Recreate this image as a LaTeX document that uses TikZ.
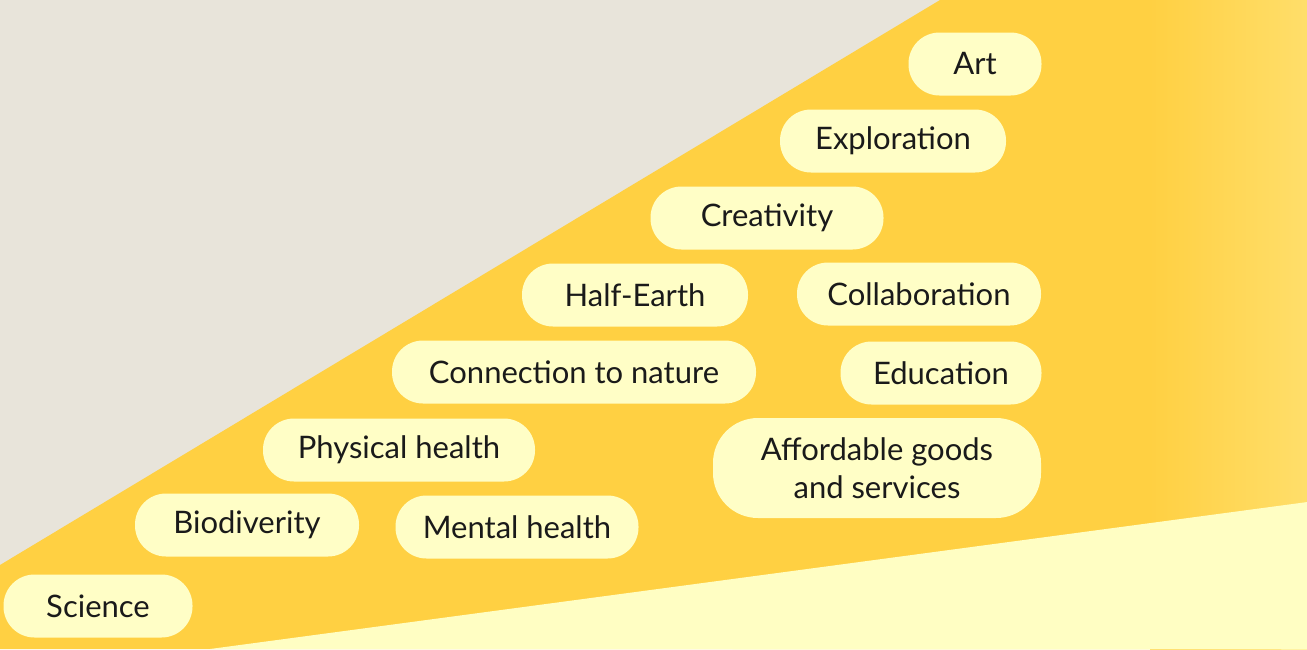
\documentclass[tikz,border=0pt]{standalone}
\usepackage{fontspec}
\setmainfont{Lato}
\usetikzlibrary{shapes.misc}
\definecolor{bggrey}{HTML}{E8E4DA}
\definecolor{wedge}{HTML}{FFD042}
\definecolor{wedgelight}{HTML}{FFE070}
\definecolor{pillfill}{HTML}{FFFEC6}
\definecolor{bottomfill}{HTML}{FFFEC3}
\definecolor{txt}{HTML}{1A1A1A}
\tikzset{
  pill/.style={fill=pillfill, draw=none, rounded corners=31pt, minimum height=63pt,
    inner sep=0pt, text=txt, font=\fontsize{31}{38}\selectfont, align=center},
}
\begin{document}
\begin{tikzpicture}[x=1pt,y=-1pt]
\useasboundingbox (0,0) rectangle (1307,649);
\fill[bggrey] (0,0) rectangle (1307,649);
\fill[wedge] (940,0) -- (1307,0) -- (1307,649) -- (0,649) -- (0,565) -- cycle;
\shade[left color=wedge, right color=wedgelight] (1150,0) rectangle (1330,649);
\fill[bggrey] (1307,-1) rectangle (1340,650);
\fill[bottomfill] (210,649) -- (1307.5,502) -- (1307.5,649.5) -- cycle;

\node[pill, minimum width=133pt] (art) at (975,64) {Art};
\node[pill, minimum width=226pt] (exploration) at (893,141) {Exploration};
\node[pill, minimum width=233pt] (creativity) at (767,218) {Creativity};
\node[pill, minimum width=226pt] (halfearth) at (635,295) {Half-Earth};
\node[pill, minimum width=244pt] (collab) at (919,294) {Collaboration};
\node[pill, minimum width=364pt] (connection) at (574,372) {Connection to nature};
\node[pill, minimum width=201pt] (education) at (941,373) {Education};
\node[pill, minimum width=272pt] (physical) at (399,450) {Physical health};
\node[pill, minimum width=328pt, minimum height=100pt, rounded corners=45pt] (afford) at (877,468) {Affordable goods\\and services};
\node[pill, minimum width=224pt] (biodiv) at (247,525) {Biodiverity};
\node[pill, minimum width=243pt] (mental) at (517,527) {Mental health};
\node[pill, minimum width=189pt] (science) at (98,606) {Science};
\end{tikzpicture}
\end{document}
